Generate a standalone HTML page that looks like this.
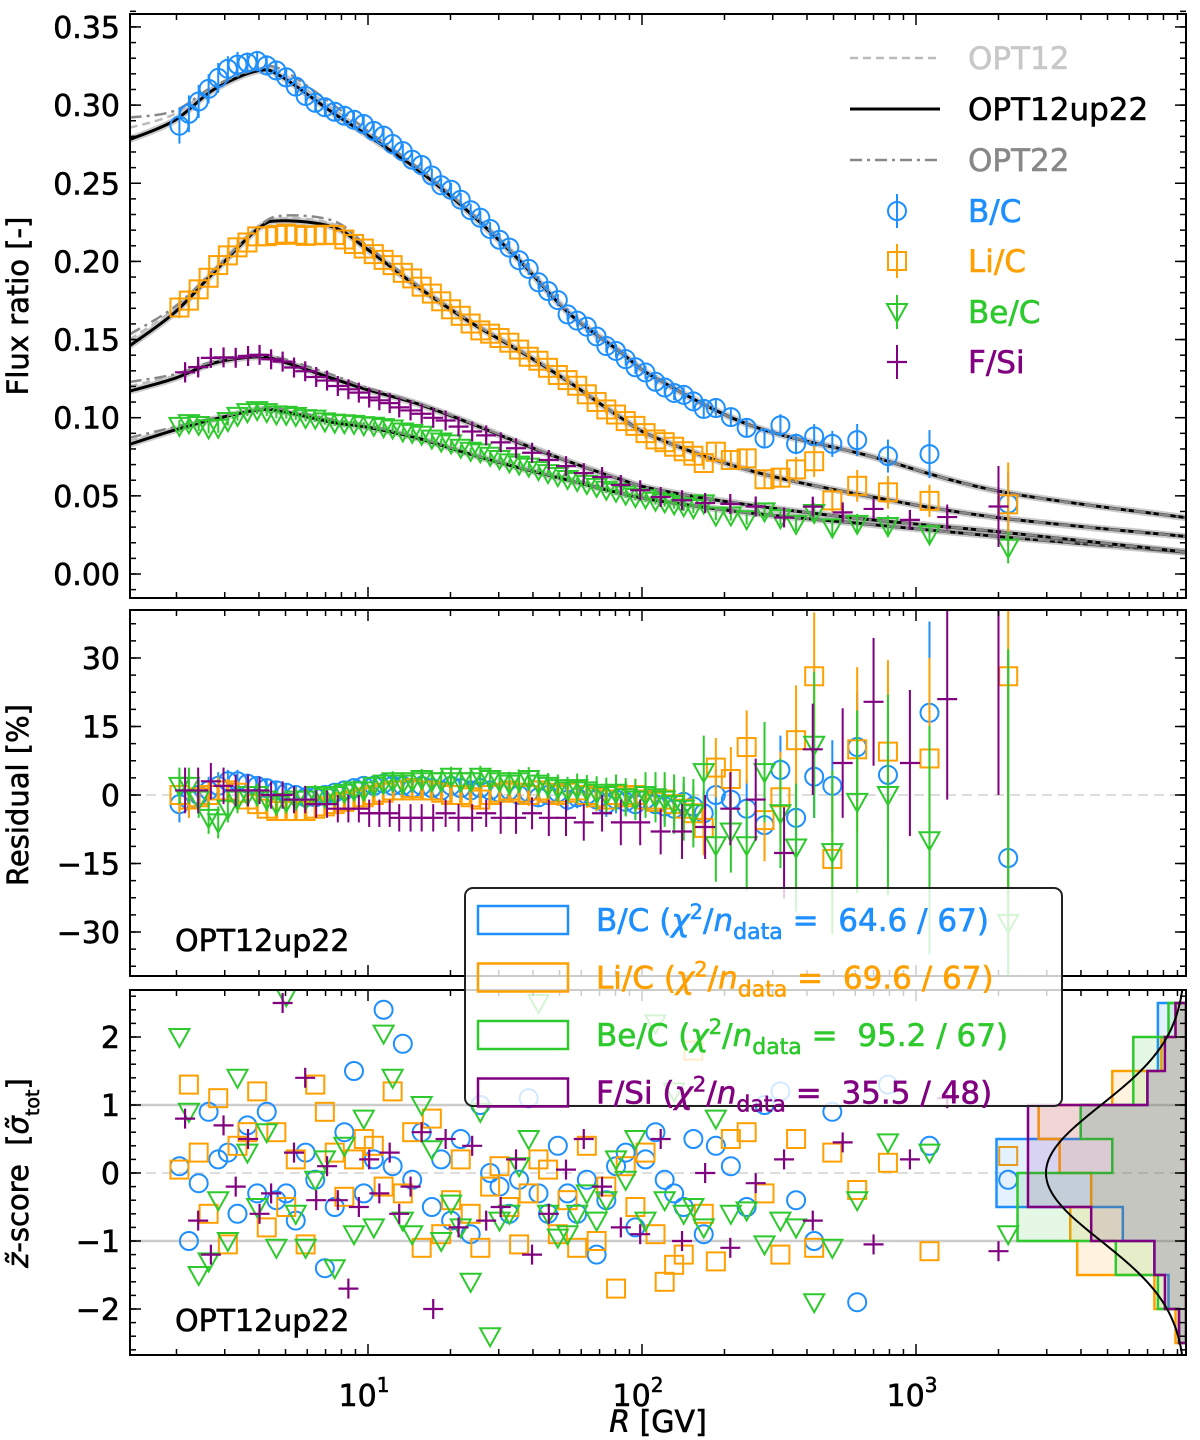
<!DOCTYPE html>
<html><head><meta charset="utf-8"><style>
html,body{margin:0;padding:0;background:#fff;}
svg{display:block;font-family:"DejaVu Sans","Liberation Sans",sans-serif;}
svg text{stroke-width:0.6px;white-space:pre;}
</style></head><body>
<svg id="chart" xmlns="http://www.w3.org/2000/svg" width="1200" height="1440" viewBox="0 0 1200 1440">
<defs>
<clipPath id="c1"><rect x="130" y="14" width="1056" height="584"/></clipPath>
<clipPath id="c2"><rect x="130" y="610" width="1056" height="366"/></clipPath>
<clipPath id="c3"><rect x="130" y="990" width="1056" height="365"/></clipPath>
</defs>
<rect x="0" y="0" width="1200" height="1440" fill="#fff"/>
<g id="g1" clip-path="url(#c1)"></g>
<g id="g2" clip-path="url(#c2)"></g>
<g id="g3" clip-path="url(#c3)"></g>
<g id="axes"></g>
<text x="28" y="306" font-size="29" stroke="#000" text-anchor="middle" transform="rotate(-90 28 306)">Flux ratio [-]</text>
<text x="28" y="795" font-size="29" stroke="#000" text-anchor="middle" transform="rotate(-90 28 795)">Residual [%]</text>
<text x="28" y="1173" font-size="29" stroke="#000" text-anchor="middle" transform="rotate(-90 28 1173)"><tspan font-style="italic">z̃</tspan>-score  [<tspan font-style="italic">σ̃</tspan><tspan font-size="19" baseline-shift="sub">tot</tspan>]</text>
<text x="658" y="1432" font-size="30" stroke="#000" text-anchor="middle"><tspan font-style="italic">R</tspan> [GV]</text>
<text x="175" y="951" font-size="30" stroke="#000">OPT12up22</text>
<text x="175" y="1331" font-size="30" stroke="#000">OPT12up22</text>
<g id="leg1"></g>
<g id="leg2"></g>
</svg>
<script>
// ---------------- data ----------------
const rC = [2.05,2.22,2.41,2.62,2.84,3.08,3.34,3.63,3.94,4.27,4.63,5.03,5.45,5.92,6.42,6.96,7.56,8.20,8.89,9.65,10.5,11.4,12.3,13.4,14.5,15.7,17.1,18.5,20.1,21.8,23.7,25.7,27.9,30.2,32.8,35.6,38.6,41.9,45.4,49.3,53.5,58.0,62.9,68.3,74.1,80.4,87.2,94.6,103,112,121,131,142,154,168,186,211,241,280,320,365,425,495,610,790,1120,2170];
const rF = [2.15,2.40,2.67,2.97,3.29,3.65,4.02,4.43,4.88,5.37,5.9,6.47,7.09,7.76,8.48,9.26,10.1,11.0,12.0,13.0,14.3,15.7,17.3,19.2,21.4,24.0,27.0,30.5,34.7,39.7,45.7,52.8,61.3,71.5,83.7,98.5,117,140,170,210,260,330,420,540,700,950,1300,2000];
const modelR = [1.35,1.96,2.74,3.97,4.86,7.45,9.9,15.1,23.2,35.5,54,82,113,250,660,2000,9660];
const modelBC = [0.278,0.290,0.310,0.322,0.318,0.295,0.281,0.259,0.232,0.201,0.167,0.143,0.125,0.095,0.076,0.053,0.036];
const modelLiC = [0.146,0.167,0.193,0.221,0.226,0.222,0.208,0.184,0.162,0.143,0.123,0.101,0.087,0.066,0.050,0.036,0.024];
const modelBeC = [0.083,0.092,0.099,0.105,0.104,0.097,0.094,0.087,0.077,0.068,0.060,0.052,0.047,0.039,0.032,0.024,0.014];
const modelFSi = [0.117,0.125,0.135,0.139,0.136,0.125,0.118,0.109,0.097,0.084,0.072,0.061,0.054,0.044,0.035,0.027,0.014];
const devOPT22 = [0.028,0.012,0.004,0.002,0.008,0.010,0.006,0.003,0.002,0.002,0.001,0,0,0,0,0,0];
const devOPT12 = [0.015,0.008,0.003,0.001,0.004,0.005,0.003,0.002,0.001,0.001,0,0,0,0,0,0,0];
const resBC = [-2,-1,0,1,2,3,3,2.5,2,1.5, 1,0.5,0,-0.5,-0.5,0,0.5,1,1.5,2, 2,2.5,2,2,1.5,2,1.5,1,2,1.5, 1,1.5,1,0.5,1,0,0.5,-0.5,0,0.5, -1,-0.5,0,-1,-2,-1,-1.5,-2,-1,-2, -2.5,-3,-1.5,-2.5,-4, 0,-1,-3,-6.6,5.5,-5,4,2,10.5,4.4,18,-13.8];
const resLiC = [0,-1,-0.5,0,1,1,0.5,-1,-2,-3, -3.5,-3.5,-3.5,-3.5,-3,-2.5,-2,-1.5,-1,-0.5, 0,0.5,1,1,1.5,1,1,0.5,0,0, -0.5,-1,0,0.5,1,0.5,0,1,0.5,0, 0.5,1,0,-0.5,-1,0,-0.5,0,-1,-1.5, -1,-2,-3,-4,-7.2, 6,3.5,10.5,-5.5,-0.5,12,26,-14,10,9.5,8,26];
const resBeC = [2,2,-1,-5,-6,-3,-1,0,0,-1, -2,-1.5,-1,-1,0,-0.5,0,0.5,1,1, 2,2.5,3,2.5,3,3.5,3,3,4,3, 3,4,3.5,3,2.5,3,3.5,2.5,2,1.5, 1,1.5,1,0.5,0,0.5,-0.5,-1,0,-0.5, -1,-2,-3,-4,5, -11,-8,-11,5,-4,-11.5,11,-12.5,-1.5,0,-9.9,-28];
const resFSi = [1,1,3,2,1,1,1,0,0,-1, -1,-2,-2,-3,-3,-3,-4,-4,-4,-5, -5,-5,-5,-4,-5,-5,-4,-5,-5,-4, -5,-5,-6,-4,-6,-6,-8,-8,-7,-3, -1,-12.7,10,7,20.4,7,21,60];
const errBC = [4,4,3.5,3,3,2.5,2.5,2,2,2, 2,2,2,1.8,1.8,1.8,1.8,1.8,1.8,1.8, 1.8,1.8,1.8,1.8,1.8,1.8,1.8,1.8,1.8,1.8, 1.8,2,2,2,2,2,2,2.2,2.2,2.2, 2.4,2.4,2.5,2.6,2.8,3,3,3.2,3.4,3.6, 3.8,4,4.2,4.5,5, 5.5,6,6.5,7,7.5,8,9,10,12,14,20,45];
const errLiC = [4,4,3.5,3,3,2.5,2.5,2.2,2.2,2.2, 2.2,2.2,2.2,2,2,2,2,2,2,2, 2,2,2,2,2,2,2,2,2,2, 2,2.2,2.2,2.2,2.2,2.2,2.4,2.4,2.4,2.4, 2.6,2.6,2.8,3,3,3.2,3.4,3.6,3.8,4, 4.2,4.5,5,5.5,6, 6.5,7,8,9,10,12,14,16,18,20,22,60];
const errBeC = [4,4,4,3.5,3.5,3,3,2.5,2.5,2.5, 2.5,2.5,2.5,2.2,2.2,2.2,2.2,2.2,2.2,2.2, 2.2,2.2,2.2,2.2,2.2,2.2,2.2,2.2,2.2,2.2, 2.4,2.4,2.4,2.4,2.6,2.6,2.6,2.8,2.8,3, 3,3.2,3.4,3.6,3.8,4,4.2,4.5,5,5.5, 6,6.5,7,7.5,8, 8,9,10,11,12,14,16,18,20,22,25,60];
const errFSi = [5,5,4,4,3.5,3.5,3,3,3,3, 3,3,3,3,3,3,3,3,3,3, 3,3,3,3,3,3,3,3.5,3.5,3.5, 4,4,4,4,5,5,5,6,7,8, 9,10,10,12,14,16,22,60];
const zBC = [0.1,-1.0,-0.15,0.9,0.2,0.3,-0.6,0.7,-0.3,0.9, -0.4,-0.3,-0.7,0.3,-0.1,-1.4,-0.5,0.6,1.5,-0.3, 0.2,2.4,0.1,1.9,-0.1,0.6,-0.5,0.2,-0.7,0.5, -0.9,1.0,0.0,-0.2,-0.6,-0.1,1.1,-0.3,-0.6,0.4, -0.3,-0.6,-0.1,-1.2,-0.4,0.1,0.3,-0.8,0.2,0.6, -0.1,-0.3,-0.5,0.5,-0.9,0.4,0.1,-0.5,1.0,1.2, -0.4,-1.0,0.9,-1.9,1.3,0.4,-0.1];
const zLiC = [0.05,1.3,0.3,-0.6,1.1,-1.05,0.4,0.6,1.2,-0.8, 0.6,-0.5,0.2,-1.05,1.3,0.9,0.3,-0.35,0.2,0.5, 0.4,-0.2,1.2,-0.3,0.6,-1.1,0.8,-0.9,-0.4,0.2, -0.6,-1.1,-0.2,0.1,-0.5,-1.05,-0.3,0.2,0.05,-0.9, -0.4,-1.1,0.4,-1.0,-0.2,-1.7,0.1,-0.5,0.3,-0.9, -1.6,-1.35,-1.2,1.8,-0.6,-1.3,0.5,0.6,-0.3,-1.2, 0.5,-1.1,0.3,-0.25,0.15,-1.15,0.25];
const zBeC = [2.0,0.9,-1.5,-1.3,-0.4,-1.0,1.4,0.3,-0.5,0.6, -1.1,2.6,-0.6,-1.1,-0.1,0.2,-1.4,0.4,-0.9,0.8, -0.8,2.05,1.4,-0.7,-0.9,1.0,0.35,-1.0,-0.45,-0.8, -1.6,0.9,-2.4,-0.7,-0.6,0.1,0.5,2.5,-0.6,-0.95, -0.9,-0.6,-0.3,-0.7,-0.4,0.2,-0.1,0.5,-0.7,2.2, -0.4,1.2,-0.6,-0.5,-0.8,0.8,-0.6,-0.55,-1.05,-0.7, -0.8,-1.9,-1.1,-0.4,0.45,0.3,-0.9];
const zFSi = [0.8,-0.7,-1.2,0.7,-0.2,0.5,-0.6,-0.3,2.5,0.3, 1.4,-0.4,0.1,-0.4,-1.7,-0.5,0.2,-0.3,0.3,-0.6, -0.2,0.6,-2.0,0.5,-0.8,0.4,-0.7,-0.5,0.2,-1.2, -0.6,0.05,0.5,-0.2,-0.8,-0.9,0.5,-1.0,0.0,-1.1, -0.15,0.2,-0.7,0.45,-1.05,0.2,1.1,-1.15];
const histEdges = [2.5,2,1.5,1,0.5,0,-0.5,-1,-1.5,-2,-2.5];
const histBC = [0.08,0.08,0.11,0.30,0.54,0.54,0.18,0.09,0.05,0.02];
const histLiC = [0.03,0.07,0.21,0.42,0.36,0.27,0.33,0.31,0.09,0.03];
const histBeC = [0.05,0.15,0.15,0.30,0.21,0.48,0.48,0.20,0.08,0.02];
const histFSi = [0.03,0.06,0.11,0.45,0.45,0.45,0.27,0.09,0.06,0.02];
const yTicks1 = [0,0.05,0.10,0.15,0.20,0.25,0.30,0.35];
const yTicks2 = [-30,-15,0,15,30];
const yTicks3 = [-2,-1,0,1,2];

// ---------------- scales ----------------
const NS = "http://www.w3.org/2000/svg";
const XL = 130, XR = 1186;
const X = r => 368 + (Math.log10(r) - 1) * 274;
const Y1 = v => 574 - v * 1563;
const Y2 = p => 795 - p * 4.567;
const Y3 = z => 1173 - z * 68;
const HX = d => 1186 - d * 351;
function mk(tag, attrs, parent, txt) {
  const e = document.createElementNS(NS, tag);
  for (const k in attrs) e.setAttribute(k, attrs[k]);
  if (txt !== undefined) e.textContent = txt;
  parent.appendChild(e);
  return e;
}
function interp(knots, vals, r) {
  const lr = Math.log10(r);
  for (let i = 0; i < knots.length - 1; i++) {
    const a = Math.log10(knots[i]), b = Math.log10(knots[i + 1]);
    if (lr <= b || i === knots.length - 2) {
      const t = (lr - a) / (b - a);
      return vals[i] + (vals[i + 1] - vals[i]) * t;
    }
  }
}
function smoothPath(pts) {
  let d = "M" + pts[0][0].toFixed(1) + "," + pts[0][1].toFixed(1);
  for (let i = 0; i < pts.length - 1; i++) {
    const p0 = pts[Math.max(0, i - 1)], p1 = pts[i], p2 = pts[i + 1], p3 = pts[Math.min(pts.length - 1, i + 2)];
    const c1 = [p1[0] + (p2[0] - p0[0]) / 6, p1[1] + (p2[1] - p0[1]) / 6];
    const c2 = [p2[0] - (p3[0] - p1[0]) / 6, p2[1] - (p3[1] - p1[1]) / 6];
    d += "C" + c1.map(v => v.toFixed(1)).join(",") + " " + c2.map(v => v.toFixed(1)).join(",") + " " + p2[0].toFixed(1) + "," + p2[1].toFixed(1);
  }
  return d;
}
function marker(type, cx, cy, color, parent) {
  let e;
  if (type === "circle") e = mk("circle", {cx: cx, cy: cy, r: 9, fill: "none", stroke: color, "stroke-width": 2}, parent);
  else if (type === "square") e = mk("rect", {x: cx - 9, y: cy - 9, width: 18, height: 18, fill: "none", stroke: color, "stroke-width": 2}, parent);
  else if (type === "tri") e = mk("polygon", {points: (cx - 10) + "," + (cy - 8) + " " + (cx + 10) + "," + (cy - 8) + " " + cx + "," + (cy + 10), fill: "none", stroke: color, "stroke-width": 2}, parent);
  else {
    e = mk("path", {d: "M" + (cx - 10) + "," + cy + "H" + (cx + 10), stroke: color, "stroke-width": 2.2, fill: "none"}, parent);
  }
  return e;
}

const g1 = document.getElementById("g1"), g2 = document.getElementById("g2"), g3 = document.getElementById("g3");
const axes = document.getElementById("axes");

const zl1 = mk("line", {x1: XL, x2: XR, y1: Y2(0), y2: Y2(0), stroke: "#ddd", "stroke-width": 2, "stroke-dasharray": "10,6"}, g2);


[1, -1].forEach(z => {
  const l = mk("line", {x1: XL, x2: XR, y1: Y3(z), y2: Y3(z), stroke: "#ccc", "stroke-width": 2.5}, g3);
  
  
});
const zl3 = mk("line", {x1: XL, x2: XR, y1: Y3(0), y2: Y3(0), stroke: "#ddd", "stroke-width": 2, "stroke-dasharray": "10,6"}, g3);



const series = [
  {name: "bc", color: "#1E8FFF", type: "circle", r: rC, model: modelBC, res: resBC, err: errBC, z: zBC, hist: histBC},
  {name: "lic", color: "#FFA000", type: "square", r: rC, model: modelLiC, res: resLiC, err: errLiC, z: zLiC, hist: histLiC},
  {name: "bec", color: "#2DC92D", type: "tri", r: rC, model: modelBeC, res: resBeC, err: errBeC, z: zBeC, hist: histBeC},
  {name: "fsi", color: "#800080", type: "plus", r: rF, model: modelFSi, res: resFSi, err: errFSi, z: zFSi, hist: histFSi}
];
series.forEach(s => {
  const base = modelR.map((r, i) => [X(r), Y1(s.model[i])]);
  const o12 = modelR.map((r, i) => [X(r), Y1(s.model[i] + devOPT12[i] * s.model[i] / 0.278 * 0.5)]);
  const o22 = modelR.map((r, i) => [X(r), Y1(s.model[i] + devOPT22[i] * s.model[i] / 0.278 * 0.5)]);
  const band = mk("path", {d: smoothPath(base), fill: "none", stroke: "#999", "stroke-width": 7, opacity: 0.5}, g1);
  
  
  const c12 = mk("path", {d: smoothPath(o12), fill: "none", stroke: "#bbb", "stroke-width": 2.5, "stroke-dasharray": "8,5"}, g1);
  
  
  const cm = mk("path", {d: smoothPath(base), fill: "none", stroke: "#000", "stroke-width": 3}, g1);
  
  
  const c22 = mk("path", {d: smoothPath(o22), fill: "none", stroke: "#888", "stroke-width": 2.5, "stroke-dasharray": "12,5,3,5"}, g1);
  
  
});

series.forEach(s => {
  const n = s.r.length;
  for (let i = 0; i < n; i++) {
    const m = interp(modelR, s.model, s.r[i]);
    const v = m * (1 + s.res[i] / 100);
    const ev = v * s.err[i] / 100;
    const x = X(s.r[i]);
    const eb = mk("line", {x1: x, x2: x, y1: Y1(v - ev), y2: Y1(v + ev), stroke: s.color, "stroke-width": 2}, g1);
    
    
    const p = marker(s.type, x, Y1(v), s.color, g1);
    
    
    const eb2 = mk("line", {x1: x, x2: x, y1: Y2(s.res[i] - s.err[i]), y2: Y2(s.res[i] + s.err[i]), stroke: s.color, "stroke-width": 2}, g2);
    
    
    const p2 = marker(s.type, x, Y2(s.res[i]), s.color, g2);
    
    
    const p3 = marker(s.type, x, Y3(s.z[i]), s.color, g3);
    
    
    if (s.type === "plus") {
      mk("line", {x1: x, x2: x, y1: Y1(v) - 10, y2: Y1(v) + 10, stroke: s.color, "stroke-width": 2.2}, g1);
      mk("line", {x1: x, x2: x, y1: Y3(s.z[i]) - 10, y2: Y3(s.z[i]) + 10, stroke: s.color, "stroke-width": 2.2}, g3);
    }
  }
});

series.forEach(s => {
  let d = "M" + XR + "," + Y3(histEdges[0]);
  for (let i = 0; i < s.hist.length; i++) {
    const x = HX(s.hist[i]);
    d += "L" + x.toFixed(1) + "," + Y3(histEdges[i]) + "L" + x.toFixed(1) + "," + Y3(histEdges[i + 1]);
  }
  d += "L" + XR + "," + Y3(histEdges[histEdges.length - 1]) + "Z";
  const h = mk("path", {d: d, fill: s.color, "fill-opacity": 0.12, stroke: s.color, "stroke-width": 2.5}, g3);
  
  
});
(function () {
  const pts = [];
  for (let z = -2.7; z <= 2.7; z += 0.05) pts.push(HX(Math.exp(-z * z / 2) / Math.sqrt(2 * Math.PI)).toFixed(1) + "," + Y3(z).toFixed(1));
  const gc = mk("polyline", {points: pts.join(" "), fill: "none", stroke: "#000", "stroke-width": 2}, g3);
  
  
})();

const panels = [{t: 14, b: 598}, {t: 610, b: 976}, {t: 990, b: 1355}];
panels.forEach((p, k) => {
  const f = mk("rect", {x: XL, y: p.t, width: XR - XL, height: p.b - p.t, fill: "none", stroke: "#000", "stroke-width": 2}, axes);
  
  
  for (let dec = 1; dec <= 1000; dec *= 10) {
    for (let m = 1; m <= 9; m++) {
      const r = dec * m, x = X(r);
      if (x <= XL || x >= XR) continue;
      const len = m === 1 ? 11 : 6;
      mk("line", {x1: x, x2: x, y1: p.b, y2: p.b - len, stroke: "#000", "stroke-width": 1.5}, axes);
      mk("line", {x1: x, x2: x, y1: p.t, y2: p.t + len, stroke: "#000", "stroke-width": 1.5}, axes);
    }
  }
});
function yTicks(major, minorStep, lo, hi, Yf, fmt, name) {
  for (let v = lo; v <= hi + 1e-9; v += minorStep) {
    const y = Yf(v);
    mk("line", {x1: XL, x2: XL + 6, y1: y, y2: y, stroke: "#000", "stroke-width": 1.5}, axes);
    mk("line", {x1: XR, x2: XR - 6, y1: y, y2: y, stroke: "#000", "stroke-width": 1.5}, axes);
  }
  major.forEach(v => {
    const y = Yf(v);
    mk("line", {x1: XL, x2: XL + 11, y1: y, y2: y, stroke: "#000", "stroke-width": 1.5}, axes);
    mk("line", {x1: XR, x2: XR - 11, y1: y, y2: y, stroke: "#000", "stroke-width": 1.5}, axes);
    const t = mk("text", {x: 120, y: y + 11, "font-size": 30, stroke: "#000", "text-anchor": "end"}, axes, fmt(v));
    
    
  });
}
yTicks(yTicks1, 0.01, -0.01, 0.36, Y1, v => v.toFixed(2), 'y-tick-label-ratio');
yTicks(yTicks2, 3.75, -37.5, 37.5, Y2, v => (v < 0 ? "\u2212" + Math.abs(v) : "" + v), 'y-tick-label-residual');
yTicks(yTicks3, 0.2, -2.6, 2.6, Y3, v => (v < 0 ? "\u2212" + Math.abs(v) : "" + v), 'y-tick-label-zscore');
[1, 2, 3].forEach(e => {
  const x = X(Math.pow(10, e));
  const t = mk("text", {x: x - 4, y: 1406, "font-size": 30, stroke: "#000", "text-anchor": "middle"}, axes);
  mk("tspan", {}, t, "10");
  mk("tspan", {"font-size": 20, dy: -14}, t, "" + e);
  
  
});

const leg1 = document.getElementById("leg1");
const lines = [
  {y: 58, stroke: "#bbb", dash: "8,5", w: 2.5, label: "OPT12", color: "#c8c8c8"},
  {y: 109, stroke: "#000", dash: "", w: 3, label: "OPT12up22", color: "#000"},
  {y: 160, stroke: "#888", dash: "12,5,3,5", w: 2.5, label: "OPT22", color: "#888"}
];
lines.forEach(l => {
  const ln = mk("line", {x1: 850, x2: 940, y1: l.y, y2: l.y, stroke: l.stroke, "stroke-width": l.w, "stroke-dasharray": l.dash}, leg1);
  
  
  const t = mk("text", {x: 968, y: l.y + 11, "font-size": 31, fill: l.color, stroke: l.color}, leg1, l.label);
  
  
});
const labels = ["B/C", "Li/C", "Be/C", "F/Si"];
series.forEach((s, i) => {
  const y = [211, 261, 312, 362][i];
  mk("line", {x1: 897, x2: 897, y1: y - 17, y2: y + 17, stroke: s.color, "stroke-width": 2}, leg1);
  const m = marker(s.type, 897, y, s.color, leg1);
  
  
  const t = mk("text", {x: 968, y: y + 11, "font-size": 31, fill: s.color, stroke: s.color}, leg1, labels[i]);
  
  
});

const leg2 = document.getElementById("leg2");
const box = mk("rect", {x: 465, y: 888, width: 597, height: 218, rx: 8, fill: "#fff", "fill-opacity": 0.8, stroke: "#222", "stroke-width": 2}, leg2);


const chiVals = ["64.6 / 67", "69.6 / 67", "95.2 / 67", "35.5 / 48"];
series.forEach((s, i) => {
  const y = 920 + i * 57.5;
  const sw = mk("rect", {x: 478, y: y - 14, width: 90, height: 28, fill: "none", stroke: s.color, "stroke-width": 2.5}, leg2);
  
  
  const t = mk("text", {x: 596, y: y + 11, "font-size": 31, fill: s.color, stroke: s.color}, leg2);
  mk("tspan", {}, t, labels[i] + " (");
  mk("tspan", {"font-style": "italic"}, t, "χ");
  mk("tspan", {"font-size": 21, dy: -12}, t, "2");
  mk("tspan", {dy: 12}, t, "/");
  mk("tspan", {"font-style": "italic"}, t, "n");
  mk("tspan", {"font-size": 22, dy: 8}, t, "data");
  mk("tspan", {dy: -8}, t, " =  " + chiVals[i] + ")");
  
  
});
</script>
</body></html>
